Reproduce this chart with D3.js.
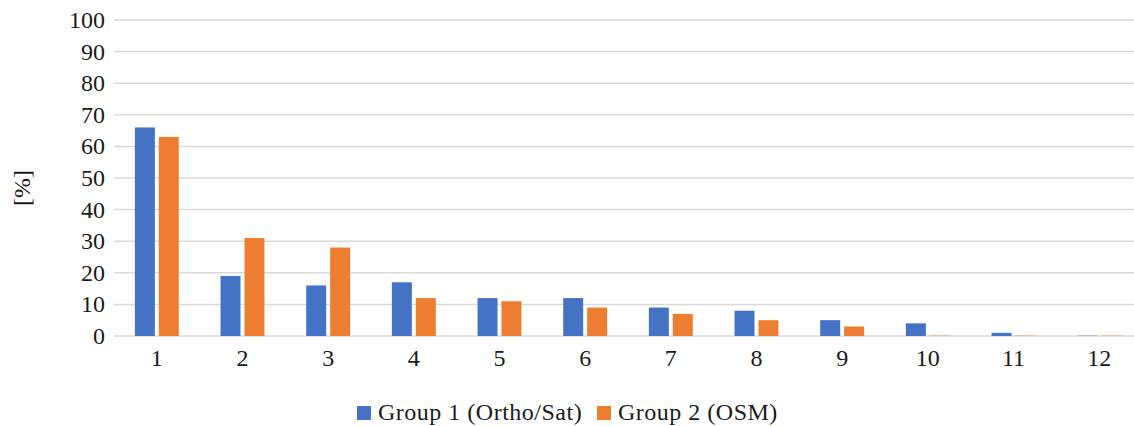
<!DOCTYPE html>
<html>
<head>
<meta charset="utf-8">
<script src="https://cdn.jsdelivr.net/npm/d3@7"></script>
<style>
  body { margin: 0; background: #fff; overflow: hidden; }
</style>
</head>
<body>
<div id="chart"></div>
<script>
const categories = ["1","2","3","4","5","6","7","8","9","10","11","12"];
const group1 = [66, 19, 16, 17, 12, 12, 9, 8, 5, 4, 1, 0.1];
const group2 = [63, 31, 28, 12, 11, 9, 7, 5, 3, 0.1, 0.1, 0.1];
const seriesNames = ["Group 1 (Ortho/Sat)", "Group 2 (OSM)"];
const colors = ["#4472C4", "#ED7D31"];
const yTicks = [0, 10, 20, 30, 40, 50, 60, 70, 80, 90, 100];

const width = 1134, height = 426;
const margin = { left: 114, top: 20, bottom: 90 };
// plot area runs a bit past the right edge of the picture
const plotRight = 1142;
const FONT = "'Liberation Serif', 'Times New Roman', serif";

const svg = d3.select("#chart").append("svg")
  .attr("width", width).attr("height", height);

const x = d3.scaleBand()
  .domain(categories)
  .range([margin.left, plotRight]);

const y = d3.scaleLinear()
  .domain([0, 100])
  .range([height - margin.bottom, margin.top]);

// grid
svg.append("g").selectAll("line")
  .data(yTicks)
  .enter().append("line")
  .attr("x1", margin.left).attr("x2", plotRight)
  .attr("y1", d => y(d)).attr("y2", d => y(d))
  .attr("stroke", "#d9d9d9").attr("stroke-width", 1.5);

// y labels
svg.append("g").selectAll("text")
  .data(yTicks)
  .enter().append("text")
  .attr("x", 105).attr("y", d => y(d) + 8)
  .attr("text-anchor", "end")
  .attr("fill", "#1a1a1a")
  .style("font-family", FONT)
  .style("font-size", "24px")
  .text(d => d);

// x labels
svg.append("g").selectAll("text")
  .data(categories)
  .enter().append("text")
  .attr("x", d => x(d) + x.bandwidth() / 2)
  .attr("y", y(0) + 30)
  .attr("text-anchor", "middle")
  .attr("fill", "#1a1a1a")
  .style("font-family", FONT)
  .style("font-size", "24px")
  .text(d => d);

// axis title
svg.append("text")
  .attr("transform", "translate(30,188) rotate(-90)")
  .attr("text-anchor", "middle")
  .attr("fill", "#1a1a1a")
  .style("font-family", FONT)
  .style("font-size", "24px")
  .text("[%]");

// bars
const barW = x.bandwidth() * 0.233;
const gap = 4;
const sub = d3.scaleOrdinal().domain([0, 1]).range([-barW - gap / 2, gap / 2]);

[group1, group2].forEach((vals, si) => {
  svg.append("g").selectAll("rect")
    .data(vals)
    .enter().append("rect")
    .attr("x", (d, i) => x(categories[i]) + x.bandwidth() / 2 + sub(si))
    .attr("width", barW)
    .attr("y", d => y(d))
    .attr("height", d => y(0) - y(d))
    .attr("fill", colors[si]);
});

// legend
const leg = svg.append("g");
const legX = [357, 597];
seriesNames.forEach((n, i) => {
  leg.append("rect")
    .attr("x", legX[i]).attr("y", 406)
    .attr("width", 14).attr("height", 14)
    .attr("fill", colors[i]);
  leg.append("text")
    .attr("x", legX[i] + 21).attr("y", 420)
    .attr("fill", "#1a1a1a")
    .style("font-family", FONT)
    .style("font-size", "24px")
    .style("letter-spacing", "0.5px")
    .text(n);
});
</script>
</body>
</html>
